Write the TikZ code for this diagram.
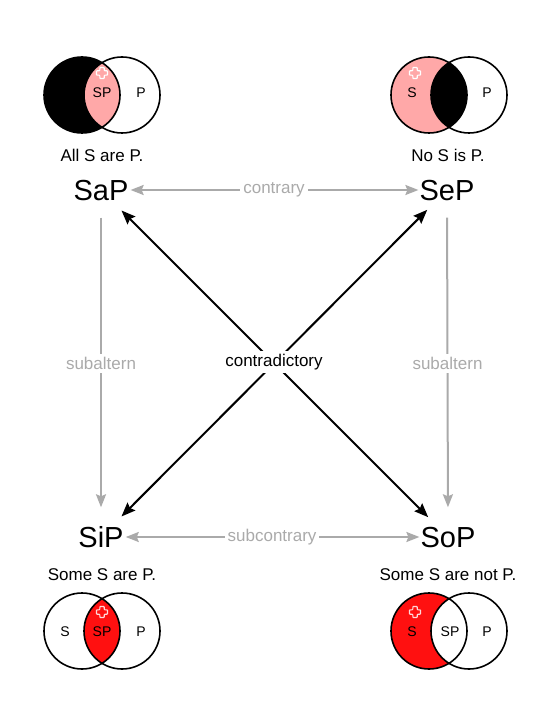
\documentclass[tikz,border=0pt]{standalone}
\usepackage{fontspec}
\setmainfont{Liberation Sans}
\usetikzlibrary{arrows.meta}
\definecolor{lgray}{HTML}{AAAAAA}
\definecolor{pinkf}{HTML}{FFA8A8}
\definecolor{redf}{HTML}{FF1010}
\definecolor{xpink}{HTML}{FFD8D8}
\tikzset{
  term/.style={font=\fontsize{29}{30}\selectfont, inner sep=0pt, text height=21pt, text depth=0pt},
  caption/.style={font=\fontsize{17}{19}\selectfont, inner sep=1pt},
  rel/.style={font=\fontsize{17}{19}\selectfont, text=lgray, fill=white, inner sep=3pt},
  crel/.style={font=\fontsize{17}{19}\selectfont, text=black, fill=white, inner sep=3pt},
  vlabel/.style={font=\fontsize{14}{16}\selectfont, inner sep=0pt},
  grayarrow/.style={draw=lgray, line width=2pt, -{Stealth[length=13pt,width=10pt,inset=2pt]}},
  grayboth/.style={draw=lgray, line width=2pt, {Stealth[length=13pt,width=10pt,inset=2pt]}-{Stealth[length=13pt,width=10pt,inset=2pt]}},
  blackboth/.style={draw=black, line width=2pt, {Stealth[length=14pt,width=11pt,inset=2pt]}-{Stealth[length=14pt,width=11pt,inset=2pt]}},
  circ/.style={draw=black, line width=1.6pt},
  xmarkw/.pic={
    \draw[white, line width=1.1pt, rounded corners=0.7pt]
      (-2.2,-5.5) -- (2.2,-5.5) -- (2.2,-2.2) -- (5.5,-2.2) -- (5.5,2.2) -- (2.2,2.2) -- (2.2,5.5) -- (-2.2,5.5) -- (-2.2,2.2) -- (-5.5,2.2) -- (-5.5,-2.2) -- (-2.2,-2.2) -- cycle;
  },
  xmarkp/.pic={
    \draw[xpink, line width=1.1pt, rounded corners=0.7pt]
      (-2.2,-5.5) -- (2.2,-5.5) -- (2.2,-2.2) -- (5.5,-2.2) -- (5.5,2.2) -- (2.2,2.2) -- (2.2,5.5) -- (-2.2,5.5) -- (-2.2,2.2) -- (-5.5,2.2) -- (-5.5,-2.2) -- (-2.2,-2.2) -- cycle;
  }
}
\begin{document}
\begin{tikzpicture}[x=1pt, y=-1pt]
\useasboundingbox[fill=white] (0,0) rectangle (550,708);

% ---------- Venn: All S are P (top-left) ----------
\fill[black] (82,95) circle (38);
\begin{scope}
  \clip (82,95) circle (38);
  \fill[pinkf] (122,95) circle (38);
\end{scope}
\draw[circ] (82,95) circle (38);
\draw[circ] (122,95) circle (38);
\pic at (102,73) {xmarkw};
\node[vlabel] (tlsp) at (102,93) {SP};
\node[vlabel] (tlp) at (141,93) {P};

% ---------- Venn: No S is P (top-right) ----------
\fill[pinkf] (429,95) circle (38);
\begin{scope}
  \clip (429,95) circle (38);
  \fill[black] (469,95) circle (38);
\end{scope}
\draw[circ] (429,95) circle (38);
\draw[circ] (469,95) circle (38);
\pic at (415,73) {xmarkw};
\node[vlabel] (trs) at (412,93) {S};
\node[vlabel] (trp) at (487,93) {P};

% ---------- Venn: Some S are P (bottom-left) ----------
\begin{scope}
  \clip (82,631) circle (38);
  \fill[redf] (122,631) circle (38);
\end{scope}
\draw[circ] (82,631) circle (38);
\draw[circ] (122,631) circle (38);
\pic at (102,612) {xmarkp};
\node[vlabel] (bls) at (65,632) {S};
\node[vlabel] (blsp) at (102,632) {SP};
\node[vlabel] (blp) at (141,632) {P};

% ---------- Venn: Some S are not P (bottom-right) ----------
\fill[redf] (429,631) circle (38);
\begin{scope}
  \clip (429,631) circle (38);
  \fill[white] (469,631) circle (38);
\end{scope}
\draw[circ] (429,631) circle (38);
\draw[circ] (469,631) circle (38);
\pic at (415,612) {xmarkp};
\node[vlabel] (brs) at (412,632) {S};
\node[vlabel] (brsp) at (450,632) {SP};
\node[vlabel] (brp) at (487,632) {P};

% ---------- captions ----------
\node[caption] (c1) at (102,155) {All S are P.};
\node[caption] (c2) at (448,155) {No S is P.};
\node[caption] (c3) at (102,575) {Some S are P.};
\node[caption] (c4) at (448,575) {Some S are not P.};

% ---------- terms ----------
\node[term] (SaP) at (101,190) {SaP};
\node[term] (SeP) at (447,190) {SeP};
\node[term] (SiP) at (101,537) {SiP};
\node[term] (SoP) at (448,537) {SoP};

% ---------- relations ----------
\draw[grayboth, shorten <=2pt, shorten >=1pt] (SaP.east) -- (SeP.west)
  node[rel, midway] (contrary) {contrary};
\draw[grayboth, shorten <=2pt, shorten >=1pt] (SiP.east) -- (SoP.west)
  node[rel, midway] (subcontrary) {subcontrary};
\draw[grayarrow, shorten <=17pt, shorten >=19pt] (SaP.south) -- (SiP.north)
  node[rel, midway] (sub1) {subaltern};
\draw[grayarrow, shorten <=17pt, shorten >=19pt] (SeP.south) -- (SoP.north)
  node[rel, midway] (sub2) {subaltern};
\draw[blackboth, shorten <=29pt, shorten >=28pt] (SaP.center) -- (SoP.center);
\draw[blackboth, shorten <=28pt, shorten >=29pt] (SeP.center) -- (SiP.center);
\node[crel] (contra) at (274,362) {contradictory};
\end{tikzpicture}
\end{document}
